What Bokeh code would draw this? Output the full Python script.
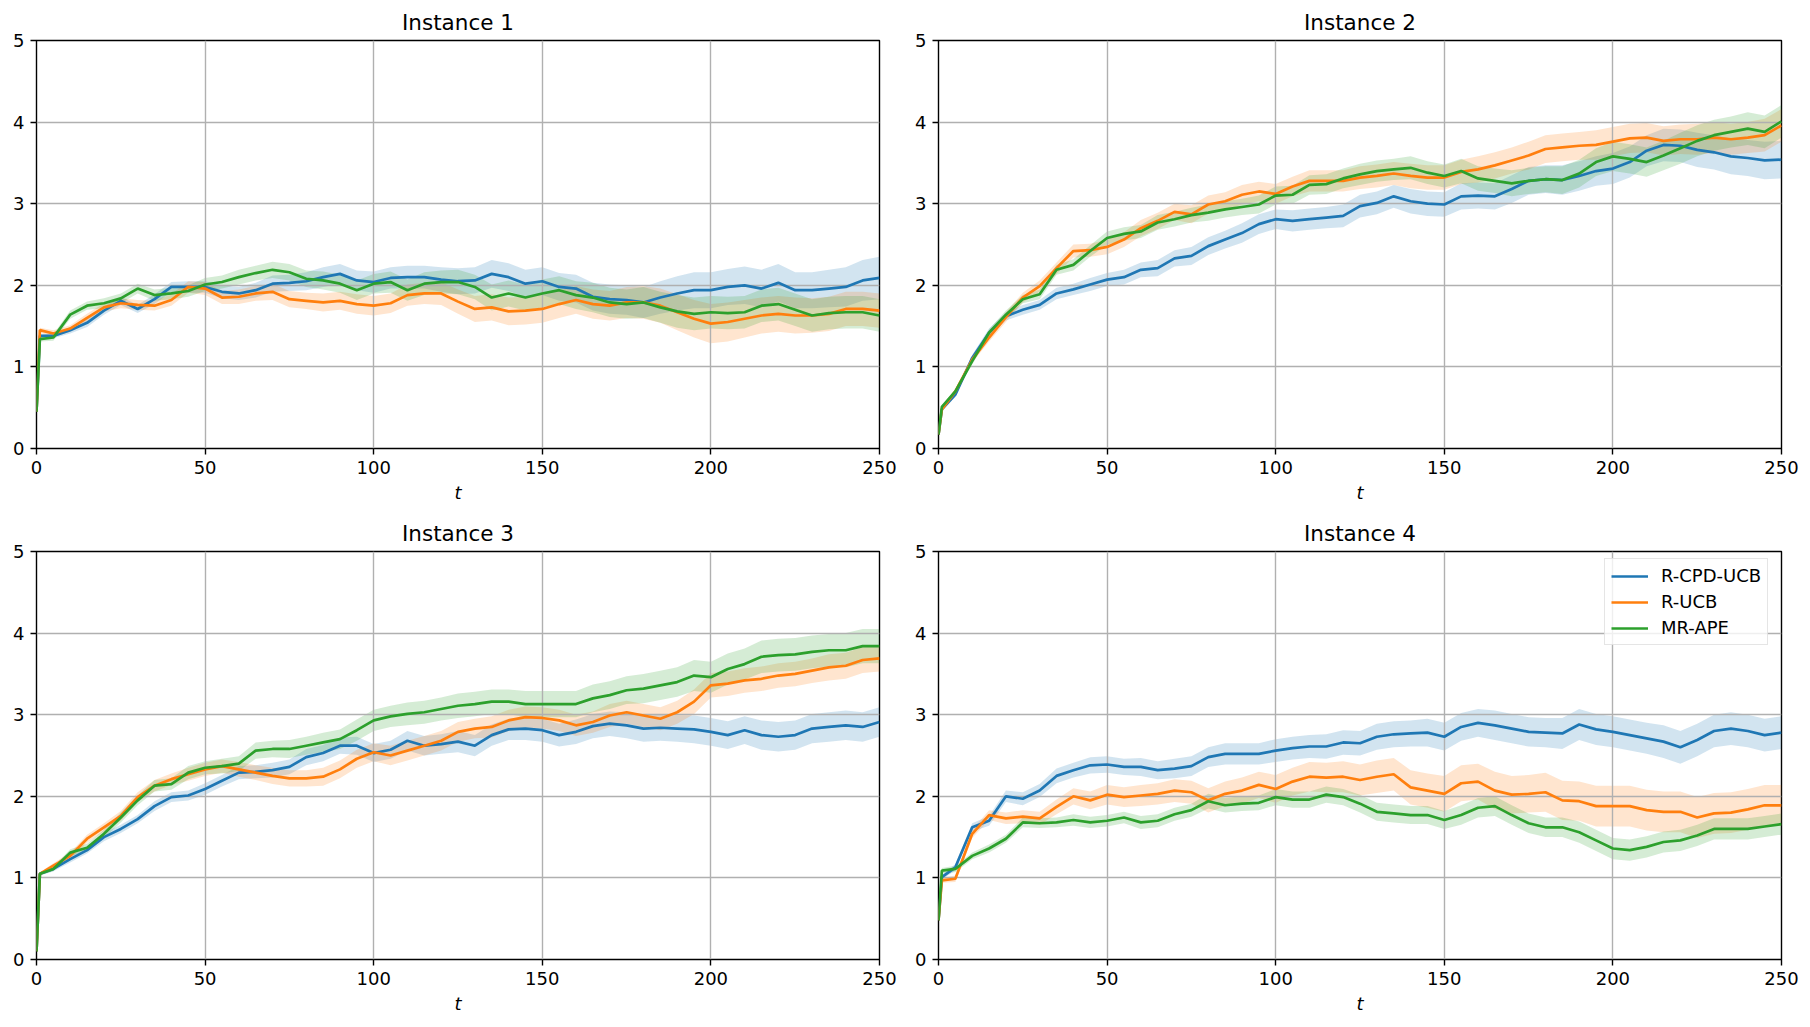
from bokeh.plotting import figure
from bokeh.layouts import column, row
from bokeh.models import Legend, LegendItem, FixedTicker, Range1d
from bokeh.embed import file_html
from bokeh.resources import INLINE

T = [0, 1] + list(range(5, 255, 5))

SERIES = ["R-CPD-UCB", "R-UCB", "MR-APE"]
COLORS = ["#1f77b4", "#ff7f0e", "#2ca02c"]
TITLES = ["Instance 1", "Instance 2", "Instance 3", "Instance 4"]
X_TICKS = [0, 50, 100, 150, 200, 250]
Y_TICKS = [0, 1, 2, 3, 4, 5]

# ---- Instance 1 ----
blue1 = [0.45, 1.38,
         1.38, 1.45, 1.54, 1.69, 1.81, 1.71, 1.83, 1.98, 1.98, 1.98,
         1.92, 1.90, 1.94, 2.02, 2.03, 2.05, 2.10, 2.14, 2.06, 2.04,
         2.09, 2.10, 2.10, 2.07, 2.05, 2.06, 2.14, 2.10, 2.02, 2.05,
         1.98, 1.96, 1.86, 1.83, 1.82, 1.79, 1.85, 1.90, 1.94, 1.94,
         1.98, 2.00, 1.96, 2.03, 1.94, 1.94, 1.96, 1.98, 2.06, 2.09]
orange1 = [0.45, 1.45,
           1.41, 1.47, 1.60, 1.73, 1.78, 1.76, 1.75, 1.82, 1.98, 1.96,
           1.85, 1.86, 1.90, 1.92, 1.83, 1.81, 1.79, 1.81, 1.77, 1.75,
           1.78, 1.88, 1.90, 1.90, 1.80, 1.71, 1.73, 1.68, 1.69, 1.71,
           1.77, 1.82, 1.77, 1.75, 1.79, 1.79, 1.75, 1.67, 1.59, 1.53,
           1.55, 1.59, 1.63, 1.65, 1.63, 1.63, 1.65, 1.71, 1.71, 1.69]
green1 = [0.45, 1.34,
          1.36, 1.64, 1.75, 1.78, 1.84, 1.96, 1.88, 1.90, 1.93, 2.01,
          2.04, 2.10, 2.15, 2.19, 2.16, 2.08, 2.06, 2.02, 1.94, 2.02,
          2.04, 1.94, 2.02, 2.04, 2.04, 1.98, 1.85, 1.90, 1.85, 1.90,
          1.94, 1.88, 1.85, 1.79, 1.77, 1.79, 1.73, 1.68, 1.65, 1.67,
          1.66, 1.67, 1.75, 1.77, 1.70, 1.63, 1.66, 1.67, 1.67, 1.63]
band_blue1 = [0.0, 0.02,
              0.03, 0.04, 0.05, 0.05, 0.05, 0.05, 0.06, 0.06, 0.07, 0.07,
              0.08, 0.08, 0.09, 0.10, 0.10, 0.11, 0.12, 0.12, 0.12, 0.13,
              0.13, 0.14, 0.14, 0.15, 0.16, 0.16, 0.17, 0.17, 0.17, 0.17,
              0.17, 0.17, 0.17, 0.18, 0.18, 0.19, 0.20, 0.21, 0.22, 0.22,
              0.22, 0.23, 0.23, 0.23, 0.22, 0.22, 0.23, 0.24, 0.25, 0.26]
band_orange1 = [0.0, 0.03,
                0.04, 0.04, 0.05, 0.05, 0.06, 0.06, 0.06, 0.07, 0.07, 0.08,
                0.08, 0.09, 0.09, 0.10, 0.10, 0.10, 0.11, 0.11, 0.12, 0.12,
                0.12, 0.13, 0.13, 0.14, 0.15, 0.16, 0.16, 0.17, 0.17, 0.17,
                0.17, 0.17, 0.18, 0.18, 0.19, 0.20, 0.21, 0.22, 0.23, 0.24,
                0.24, 0.23, 0.22, 0.22, 0.22, 0.21, 0.21, 0.21, 0.21, 0.21]
band_green1 = [0.0, 0.03,
               0.04, 0.05, 0.05, 0.06, 0.06, 0.06, 0.07, 0.07, 0.07, 0.08,
               0.08, 0.09, 0.09, 0.10, 0.10, 0.10, 0.11, 0.11, 0.12, 0.12,
               0.13, 0.13, 0.14, 0.14, 0.15, 0.15, 0.16, 0.16, 0.16, 0.17,
               0.17, 0.17, 0.18, 0.18, 0.18, 0.19, 0.19, 0.20, 0.20, 0.20,
               0.20, 0.20, 0.20, 0.20, 0.20, 0.20, 0.20, 0.20, 0.20, 0.20]

# ---- Instance 2 ----
blue2 = [0.17, 0.48,
         0.66, 1.11, 1.42, 1.62, 1.70, 1.76, 1.90, 1.95, 2.01, 2.07,
         2.10, 2.19, 2.21, 2.33, 2.36, 2.48, 2.56, 2.64, 2.75, 2.81,
         2.79, 2.81, 2.83, 2.85, 2.97, 3.01, 3.09, 3.03, 3.00, 2.99,
         3.09, 3.10, 3.09, 3.18, 3.28, 3.30, 3.29, 3.34, 3.40, 3.43,
         3.51, 3.65, 3.72, 3.71, 3.66, 3.63, 3.58, 3.56, 3.53, 3.54]
orange2 = [0.17, 0.48,
           0.70, 1.09, 1.36, 1.61, 1.85, 1.99, 2.21, 2.42, 2.43, 2.47,
           2.56, 2.70, 2.79, 2.90, 2.87, 2.99, 3.03, 3.11, 3.15, 3.12,
           3.21, 3.28, 3.28, 3.28, 3.32, 3.34, 3.37, 3.34, 3.32, 3.32,
           3.39, 3.42, 3.47, 3.53, 3.59, 3.67, 3.69, 3.71, 3.72, 3.76,
           3.80, 3.81, 3.77, 3.79, 3.79, 3.81, 3.79, 3.81, 3.84, 3.96]
green2 = [0.17, 0.51,
          0.70, 1.07, 1.42, 1.64, 1.83, 1.89, 2.19, 2.25, 2.42, 2.58,
          2.63, 2.66, 2.77, 2.81, 2.86, 2.89, 2.93, 2.96, 2.99, 3.10,
          3.11, 3.23, 3.24, 3.31, 3.36, 3.40, 3.42, 3.44, 3.38, 3.34,
          3.40, 3.31, 3.28, 3.25, 3.28, 3.30, 3.29, 3.37, 3.51, 3.58,
          3.55, 3.51, 3.59, 3.68, 3.77, 3.84, 3.88, 3.92, 3.88, 4.01]
band_blue2 = [0.0, 0.02,
              0.03, 0.04, 0.05, 0.05, 0.06, 0.06, 0.07, 0.07, 0.08, 0.08,
              0.09, 0.09, 0.10, 0.10, 0.11, 0.11, 0.11, 0.12, 0.12, 0.12,
              0.13, 0.13, 0.13, 0.14, 0.14, 0.14, 0.14, 0.15, 0.15, 0.15,
              0.16, 0.16, 0.16, 0.17, 0.17, 0.17, 0.18, 0.18, 0.18, 0.19,
              0.19, 0.19, 0.20, 0.20, 0.21, 0.21, 0.22, 0.22, 0.23, 0.23]
band_orange2 = [0.0, 0.02,
                0.03, 0.04, 0.05, 0.06, 0.06, 0.07, 0.07, 0.08, 0.08, 0.09,
                0.09, 0.10, 0.10, 0.10, 0.11, 0.11, 0.11, 0.12, 0.12, 0.12,
                0.12, 0.13, 0.13, 0.13, 0.14, 0.14, 0.14, 0.15, 0.15, 0.15,
                0.15, 0.16, 0.16, 0.16, 0.17, 0.17, 0.17, 0.17, 0.18, 0.18,
                0.18, 0.18, 0.18, 0.18, 0.19, 0.19, 0.19, 0.19, 0.20, 0.20]
band_green2 = [0.0, 0.02,
               0.03, 0.04, 0.04, 0.05, 0.05, 0.06, 0.06, 0.07, 0.07, 0.08,
               0.08, 0.08, 0.09, 0.09, 0.09, 0.10, 0.10, 0.10, 0.11, 0.11,
               0.11, 0.12, 0.12, 0.12, 0.13, 0.13, 0.13, 0.14, 0.14, 0.14,
               0.15, 0.15, 0.15, 0.16, 0.16, 0.16, 0.17, 0.17, 0.17, 0.18,
               0.18, 0.18, 0.18, 0.19, 0.19, 0.19, 0.19, 0.20, 0.20, 0.20]

# ---- Instance 3 ----
blue3 = [0.10, 1.05,
         1.11, 1.23, 1.34, 1.50, 1.60, 1.72, 1.88, 1.99, 2.01, 2.09,
         2.19, 2.29, 2.30, 2.32, 2.36, 2.48, 2.53, 2.62, 2.62, 2.53,
         2.57, 2.68, 2.62, 2.64, 2.67, 2.62, 2.75, 2.82, 2.83, 2.81,
         2.75, 2.79, 2.86, 2.89, 2.87, 2.83, 2.84, 2.83, 2.82, 2.79,
         2.75, 2.81, 2.75, 2.73, 2.75, 2.83, 2.85, 2.87, 2.85, 2.91]
orange3 = [0.10, 1.05,
           1.15, 1.27, 1.48, 1.62, 1.76, 1.99, 2.13, 2.21, 2.27, 2.33,
           2.37, 2.33, 2.29, 2.25, 2.22, 2.22, 2.24, 2.33, 2.46, 2.54,
           2.50, 2.56, 2.62, 2.68, 2.79, 2.83, 2.85, 2.93, 2.97, 2.96,
           2.93, 2.87, 2.91, 2.99, 3.03, 2.99, 2.95, 3.03, 3.16, 3.36,
           3.38, 3.42, 3.44, 3.48, 3.50, 3.54, 3.58, 3.60, 3.67, 3.69]
green3 = [0.10, 1.05,
          1.11, 1.31, 1.37, 1.54, 1.74, 1.95, 2.13, 2.15, 2.29, 2.35,
          2.37, 2.40, 2.56, 2.58, 2.58, 2.62, 2.66, 2.70, 2.81, 2.93,
          2.98, 3.01, 3.03, 3.07, 3.11, 3.13, 3.16, 3.16, 3.13, 3.13,
          3.13, 3.13, 3.20, 3.24, 3.30, 3.32, 3.36, 3.40, 3.48, 3.46,
          3.56, 3.62, 3.71, 3.73, 3.74, 3.77, 3.79, 3.79, 3.84, 3.84]
band_blue3 = [0.0, 0.02,
              0.03, 0.04, 0.04, 0.05, 0.05, 0.05, 0.06, 0.06, 0.06, 0.07,
              0.07, 0.08, 0.08, 0.09, 0.09, 0.10, 0.10, 0.10, 0.11, 0.11,
              0.11, 0.12, 0.12, 0.12, 0.13, 0.13, 0.13, 0.13, 0.14, 0.14,
              0.14, 0.15, 0.15, 0.15, 0.16, 0.16, 0.16, 0.16, 0.17, 0.17,
              0.17, 0.17, 0.18, 0.18, 0.18, 0.18, 0.18, 0.18, 0.18, 0.18]
band_orange3 = [0.0, 0.02,
                0.03, 0.04, 0.05, 0.05, 0.06, 0.06, 0.07, 0.07, 0.08, 0.08,
                0.08, 0.09, 0.09, 0.10, 0.10, 0.10, 0.11, 0.11, 0.11, 0.11,
                0.12, 0.12, 0.12, 0.12, 0.12, 0.12, 0.13, 0.13, 0.13, 0.13,
                0.13, 0.13, 0.13, 0.14, 0.14, 0.14, 0.14, 0.14, 0.15, 0.15,
                0.15, 0.15, 0.15, 0.15, 0.15, 0.15, 0.16, 0.16, 0.16, 0.16]
band_green3 = [0.0, 0.02,
               0.03, 0.04, 0.05, 0.05, 0.06, 0.06, 0.07, 0.07, 0.08, 0.08,
               0.09, 0.09, 0.10, 0.10, 0.11, 0.11, 0.12, 0.12, 0.13, 0.13,
               0.13, 0.14, 0.14, 0.14, 0.15, 0.15, 0.15, 0.15, 0.16, 0.16,
               0.16, 0.16, 0.17, 0.17, 0.17, 0.18, 0.18, 0.18, 0.19, 0.19,
               0.19, 0.19, 0.20, 0.20, 0.20, 0.20, 0.20, 0.21, 0.21, 0.21]

# ---- Instance 4 ----
blue4 = [0.48, 1.01,
         1.13, 1.62, 1.70, 2.00, 1.97, 2.07, 2.25, 2.32, 2.38, 2.39,
         2.36, 2.36, 2.32, 2.34, 2.37, 2.48, 2.52, 2.52, 2.52, 2.56,
         2.59, 2.61, 2.61, 2.66, 2.65, 2.73, 2.76, 2.77, 2.78, 2.73,
         2.85, 2.90, 2.87, 2.83, 2.79, 2.78, 2.77, 2.88, 2.82, 2.79,
         2.75, 2.71, 2.67, 2.60, 2.69, 2.80, 2.83, 2.80, 2.75, 2.78]
orange4 = [0.48, 0.97,
           0.99, 1.54, 1.77, 1.73, 1.75, 1.73, 1.87, 2.00, 1.95, 2.02,
           1.99, 2.01, 2.03, 2.07, 2.05, 1.95, 2.03, 2.07, 2.14, 2.09,
           2.18, 2.24, 2.23, 2.24, 2.20, 2.24, 2.27, 2.11, 2.07, 2.03,
           2.16, 2.18, 2.07, 2.02, 2.03, 2.05, 1.95, 1.94, 1.88, 1.88,
           1.88, 1.83, 1.81, 1.81, 1.74, 1.79, 1.80, 1.84, 1.89, 1.89]
green4 = [0.48, 1.09,
          1.11, 1.27, 1.36, 1.48, 1.68, 1.67, 1.68, 1.71, 1.68, 1.70,
          1.74, 1.68, 1.70, 1.78, 1.83, 1.94, 1.89, 1.91, 1.92, 1.99,
          1.96, 1.96, 2.02, 1.99, 1.91, 1.81, 1.79, 1.77, 1.77, 1.71,
          1.77, 1.86, 1.88, 1.77, 1.67, 1.62, 1.62, 1.56, 1.46, 1.36,
          1.34, 1.38, 1.44, 1.46, 1.52, 1.60, 1.60, 1.60, 1.63, 1.66]
band_blue4 = [0.0, 0.03,
              0.04, 0.05, 0.06, 0.07, 0.08, 0.08, 0.09, 0.09, 0.10, 0.10,
              0.10, 0.11, 0.11, 0.12, 0.12, 0.12, 0.13, 0.13, 0.13, 0.14,
              0.14, 0.14, 0.15, 0.15, 0.15, 0.16, 0.16, 0.16, 0.17, 0.17,
              0.17, 0.17, 0.18, 0.18, 0.18, 0.18, 0.19, 0.19, 0.19, 0.19,
              0.19, 0.19, 0.20, 0.20, 0.20, 0.20, 0.20, 0.20, 0.20, 0.20]
band_orange4 = [0.0, 0.03,
                0.04, 0.05, 0.06, 0.07, 0.08, 0.08, 0.09, 0.10, 0.11, 0.12,
                0.12, 0.13, 0.13, 0.14, 0.14, 0.15, 0.15, 0.16, 0.16, 0.17,
                0.17, 0.18, 0.18, 0.19, 0.19, 0.20, 0.20, 0.21, 0.21, 0.22,
                0.22, 0.22, 0.23, 0.23, 0.23, 0.24, 0.24, 0.24, 0.25, 0.25,
                0.25, 0.25, 0.25, 0.25, 0.25, 0.25, 0.25, 0.25, 0.25, 0.25]
band_green4 = [0.0, 0.03,
               0.04, 0.04, 0.05, 0.05, 0.06, 0.06, 0.06, 0.07, 0.07, 0.07,
               0.07, 0.08, 0.08, 0.08, 0.08, 0.09, 0.09, 0.09, 0.09, 0.10,
               0.10, 0.10, 0.10, 0.10, 0.11, 0.11, 0.11, 0.11, 0.11, 0.11,
               0.12, 0.12, 0.12, 0.12, 0.12, 0.12, 0.12, 0.13, 0.13, 0.13,
               0.13, 0.13, 0.13, 0.13, 0.13, 0.13, 0.13, 0.13, 0.13, 0.13]

MEANS = [[blue1, orange1, green1], [blue2, orange2, green2],
         [blue3, orange3, green3], [blue4, orange4, green4]]
BANDS = [[band_blue1, band_orange1, band_green1], [band_blue2, band_orange2, band_green2],
         [band_blue3, band_orange3, band_green3], [band_blue4, band_orange4, band_green4]]

FONT = "DejaVu Sans"


def make_panel(idx, width, height, left, right, top, bottom, with_legend=False):
    p = figure(width=width, height=height, output_backend="svg", toolbar_location=None,
               x_range=Range1d(0, 250), y_range=Range1d(0, 5),
               min_border_left=left, min_border_right=right,
               min_border_top=top, min_border_bottom=bottom,
               title=TITLES[idx])
    p.title.align = "center"
    p.title.text_font = FONT
    p.title.text_font_size = "21.5px"
    p.title.text_font_style = "normal"
    p.title.text_color = "black"
    if "standoff" in p.title.properties():
        p.title.standoff = (p.title.standoff or 0) + 2

    p.outline_line_color = "black"
    p.outline_line_width = 1.4
    p.outline_line_alpha = 1.0
    p.background_fill_color = "white"
    p.border_fill_color = "white"

    for ax in (p.xaxis[0], p.yaxis[0]):
        ax.axis_line_color = None
        ax.major_tick_line_color = "black"
        ax.major_tick_line_width = 1.4
        ax.major_tick_out = 6
        ax.major_tick_in = 0
        ax.minor_tick_line_color = None
        ax.major_label_text_font = FONT
        ax.major_label_text_font_size = "18px"
        ax.major_label_text_color = "black"
        ax.major_label_standoff = 6
    p.xaxis.ticker = FixedTicker(ticks=X_TICKS)
    p.yaxis.ticker = FixedTicker(ticks=Y_TICKS)
    p.xaxis.axis_label = "t"
    p.xaxis.axis_label_text_font = FONT
    p.xaxis.axis_label_text_font_style = "italic"
    p.xaxis.axis_label_text_font_size = "18px"
    p.xaxis.axis_label_text_color = "black"
    p.xaxis.axis_label_standoff = 5

    p.grid.grid_line_color = "#b0b0b0"
    p.grid.grid_line_width = 1.4
    p.xgrid.ticker = FixedTicker(ticks=X_TICKS)
    p.ygrid.ticker = FixedTicker(ticks=Y_TICKS)

    for mean, band, color in zip(MEANS[idx], BANDS[idx], COLORS):
        lo = [m - b for m, b in zip(mean, band)]
        hi = [m + b for m, b in zip(mean, band)]
        p.varea(x=T, y1=lo, y2=hi, fill_color=color, fill_alpha=0.2, level="image")

    lines = []
    for mean, color in zip(MEANS[idx], COLORS):
        lines.append(p.line(T, mean, line_color=color, line_width=2.7))

    if with_legend:
        legend = Legend(items=[LegendItem(label=n, renderers=[r]) for n, r in zip(SERIES, lines)],
                        location=(666, 314), margin=0, padding=6, spacing=5,
                        glyph_width=37, glyph_height=20, label_height=20,
                        label_standoff=13,
                        label_text_font=FONT, label_text_font_size="18px",
                        label_text_color="black",
                        border_line_color="#cccccc", border_line_width=1.4,
                        background_fill_alpha=0.8)
        p.add_layout(legend, "center")
    return p


p1 = make_panel(0, 905, 511, 36, 26, 40, 63)
p2 = make_panel(1, 905, 511, 33, 29, 40, 63)
p3 = make_panel(2, 905, 510, 36, 26, 40, 62)
p4 = make_panel(3, 905, 510, 33, 29, 40, 62, with_legend=True)

layout = column(row(p1, p2), row(p3, p4))

open("out.html", "w").write(file_html(layout, INLINE))
